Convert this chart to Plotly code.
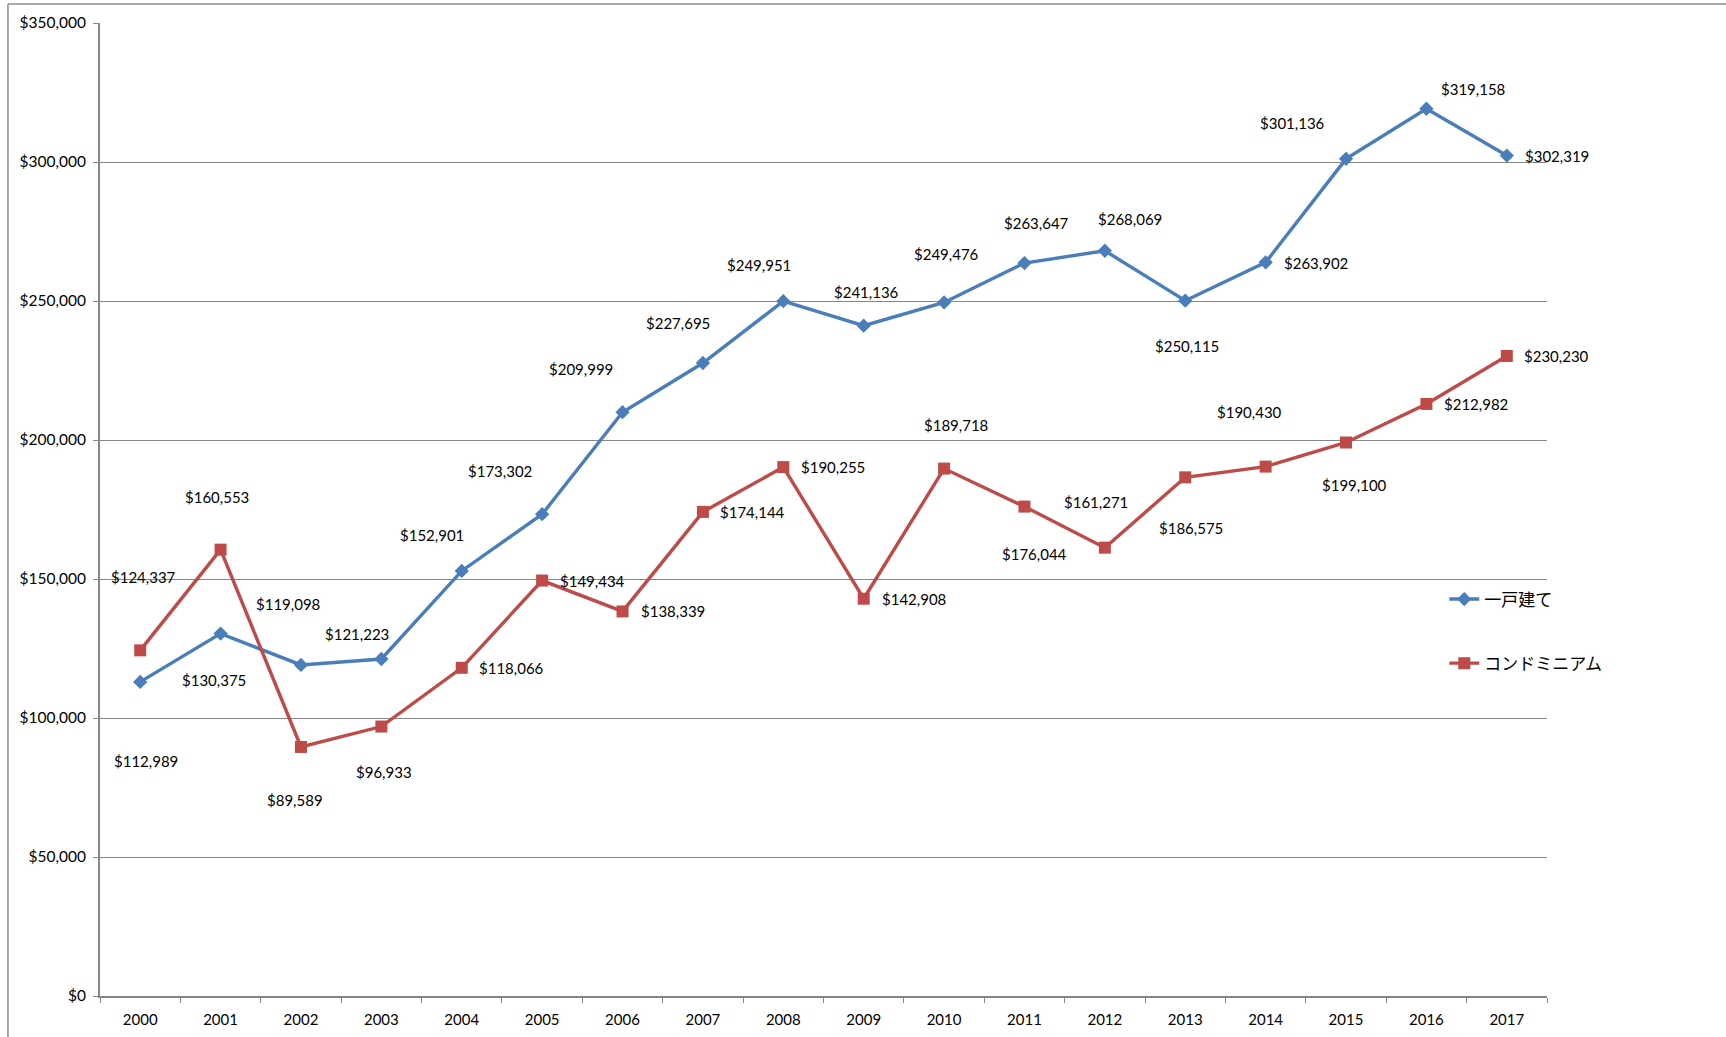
import plotly.graph_objects as go

years = [str(y) for y in range(2000, 2018)]
house_name = "一戸建て"
condo_name = "コンドミニアム"
house_values = [112989, 130375, 119098, 121223, 152901, 173302, 209999, 227695, 249951,
                241136, 249476, 263647, 268069, 250115, 263902, 301136, 319158, 302319]
condo_values = [124337, 160553, 89589, 96933, 118066, 149434, 138339, 174144, 190255,
                142908, 189718, 176044, 161271, 186575, 190430, 199100, 212982, 230230]
y_ticks = [0, 50000, 100000, 150000, 200000, 250000, 300000, 350000]

# data label offsets in pixels (dx, dy with dy positive = downward)
house_label_offsets = [(5.5, 79), (-7, 46), (-13, -61), (-24, -25), (-30, -36), (-42, -43),
                       (-42, -43), (-25, -40), (-24, -36), (3, -34), (2, -48), (12, -40),
                       (25, -32), (2, 45), (50, 1), (-54, -36), (47, -20), (50, 0)]
condo_label_offsets = [(3, -73), (-4, -53), (-6, 53), (3, 45), (50, 0), (50, 0), (50, 0),
                       (50, 0), (50, 0), (50, 0), (12, -44), (10, 47), (-9, -46), (5.5, 51),
                       (-16.5, -55), (8, 42), (50, 0), (50, 0)]

BLUE = "#4A7EBB"
RED = "#BE4B48"
GRID = "#868686"
FONT = "Lato, 'Noto Sans CJK JP', sans-serif"

fig = go.Figure()
fig.add_trace(go.Scatter(
    x=years, y=house_values, name=house_name, mode="lines+markers",
    line=dict(color=BLUE, width=3.4),
    marker=dict(symbol="diamond", size=11, color=BLUE),
    legendgroup="a",
))
fig.add_trace(go.Scatter(
    x=years, y=condo_values, name=condo_name, mode="lines+markers",
    line=dict(color=RED, width=3.4),
    marker=dict(symbol="square", size=12, color=RED),
    legendgroup="b",
))

annotations = []
for vals, offs in ((house_values, house_label_offsets), (condo_values, condo_label_offsets)):
    for i, (v, (dx, dy)) in enumerate(zip(vals, offs)):
        annotations.append(dict(
            x=i, y=v, xref="x", yref="y", text="&#36;" + f"{v:,}", showarrow=False,
            xshift=dx, yshift=-dy, font=dict(family=FONT, size=15, color="#000000"),
        ))

fig.update_layout(
    width=1726, height=1037,
    margin=dict(l=100, r=179, t=23, b=41, autoexpand=False),
    paper_bgcolor="white", plot_bgcolor="white",
    font=dict(family=FONT, size=15, color="#000000"),
    annotations=annotations,
    showlegend=True,
    legend=dict(
        x=0.929, y=0.426, xanchor="left", yanchor="top",
        font=dict(family="'Noto Sans CJK JP', Lato, sans-serif", size=17, color="#000000"),
        tracegroupgap=39, bgcolor="rgba(0,0,0,0)",
    ),
    shapes=[
        dict(type="line", xref="paper", yref="paper", x0=-0.0636, x1=1.3, y0=1.0195, y1=1.0195,
             line=dict(color="#8c8c8c", width=1.5)),
        dict(type="line", xref="paper", yref="paper", x0=-0.0636, x1=-0.0636, y0=1.0195, y1=-0.2,
             line=dict(color="#8c8c8c", width=1.5)),
    ],
)
fig.update_xaxes(
    type="category", range=[-0.5, 17.5], automargin=False,
    showline=True, linecolor=GRID, linewidth=2,
    ticks="outside", tickson="boundaries", ticklen=5, tickcolor=GRID, tickwidth=1,
    ticklabelstandoff=9,
    showgrid=False, tickfont=dict(family=FONT, size=15),
)
fig.update_yaxes(
    range=[0, 350000], tickvals=y_ticks, tickformat="$,", automargin=False,
    showline=True, linecolor=GRID, linewidth=2,
    ticks="outside", ticklen=5, tickcolor=GRID, tickwidth=1,
    ticklabelstandoff=4,
    showgrid=True, gridcolor=GRID, gridwidth=1, zeroline=False,
    tickfont=dict(family=FONT, size=15.5),
)

fig.write_html("out.html", config={"displayModeBar": False},
               post_script="document.body.style.margin='0';")
